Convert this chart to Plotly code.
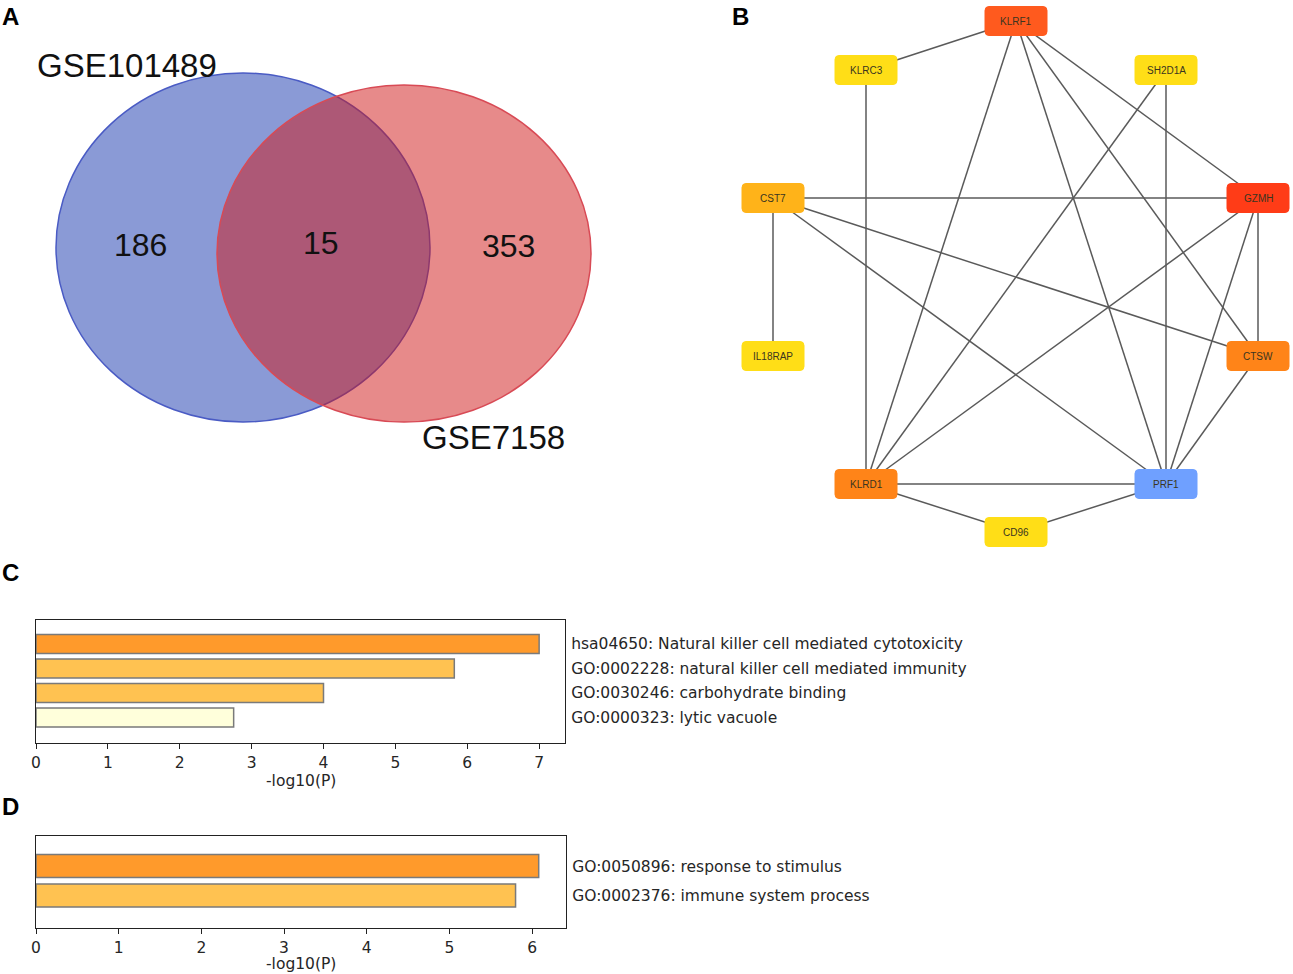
import plotly.graph_objects as go

W, H = 1293, 974

# ---------------- Panel A data (Venn) ----------------
venn_sets = ["GSE101489", "GSE7158"]
venn_counts = [186, 15, 353]  # only set 1, shared, only set 2

# ---------------- Panel B data (PPI network) ----------------
genes = ["KLRF1", "KLRC3", "SH2D1A", "CST7", "GZMH", "IL18RAP", "CTSW", "KLRD1", "PRF1", "CD96"]
gene_colors = ["#ff5a1e", "#ffde17", "#ffde17", "#ffb319", "#ff3c17", "#ffde17",
               "#ff8418", "#ff8418", "#6fa0ff", "#ffde17"]
edges = [
    ("KLRF1", "KLRC3"), ("KLRF1", "KLRD1"), ("KLRF1", "PRF1"), ("KLRF1", "CTSW"),
    ("KLRF1", "GZMH"), ("KLRC3", "KLRD1"), ("SH2D1A", "KLRD1"), ("SH2D1A", "PRF1"),
    ("CST7", "GZMH"), ("CST7", "IL18RAP"), ("CST7", "PRF1"), ("CST7", "CTSW"),
    ("GZMH", "KLRD1"), ("GZMH", "PRF1"), ("GZMH", "CTSW"), ("CTSW", "PRF1"),
    ("KLRD1", "PRF1"), ("KLRD1", "CD96"), ("PRF1", "CD96"),
]

# ---------------- Panel C data ----------------
c_terms = ["hsa04650: Natural killer cell mediated cytotoxicity",
           "GO:0002228: natural killer cell mediated immunity",
           "GO:0030246: carbohydrate binding",
           "GO:0000323: lytic vacuole"]
c_values = [7.0, 5.82, 4.0, 2.75]
c_colors = ["#ff9a2b", "#ffc251", "#ffc251", "#ffffdb"]
c_ticks = [0, 1, 2, 3, 4, 5, 6, 7]

# ---------------- Panel D data ----------------
d_terms = ["GO:0050896: response to stimulus",
           "GO:0002376: immune system process"]
d_values = [6.08, 5.80]
d_colors = ["#ff9a2b", "#ffc251"]
d_ticks = [0, 1, 2, 3, 4, 5, 6]

grid_vals = [2, 4, 6]
x_title = "-log10(P)"

# ---------------- layout geometry (pixels) ----------------
node_xy = {
    "KLRF1": (1016, 21), "KLRC3": (866, 70), "SH2D1A": (1166, 70),
    "CST7": (773, 198), "GZMH": (1258, 198), "IL18RAP": (773, 356),
    "CTSW": (1258, 356), "KLRD1": (866, 484), "PRF1": (1166, 484), "CD96": (1016, 532),
}
NODE_W, NODE_H, NODE_R = 62, 29, 4

fig = go.Figure()

# ---- network edges ----
ex, ey = [], []
for a, b in edges:
    ex += [node_xy[a][0], node_xy[b][0], None]
    ey += [node_xy[a][1], node_xy[b][1], None]
fig.add_trace(go.Scatter(x=ex, y=ey, mode="lines", xaxis="x", yaxis="y",
                         line=dict(color="#5a5a5a", width=1.5),
                         hoverinfo="skip", showlegend=False))

shapes = []
annotations = []

# ---- Venn circles ----
shapes.append(dict(type="circle", xref="x", yref="y", x0=56, x1=430, y0=73, y1=422,
                   fillcolor="rgba(21,53,173,0.5)", line=dict(color="#4a5bc4", width=1.5),
                   layer="below"))
shapes.append(dict(type="circle", xref="x", yref="y", x0=217, x1=591, y0=85, y1=422,
                   fillcolor="rgba(207,21,21,0.5)", line=dict(color="#d84a55", width=1.5),
                   layer="below"))

vfont = dict(family="Liberation Sans, Arial", size=33, color="#111111")
annotations.append(dict(x=127, y=65, xref="x", yref="y", text=venn_sets[0], showarrow=False, font=vfont))
annotations.append(dict(x=493, y=437, xref="x", yref="y", text=venn_sets[1], showarrow=False, font=vfont))
for val, (px, py) in zip(venn_counts, [(140, 245), (321, 243), (508, 246)]):
    annotations.append(dict(x=px, y=py, xref="x", yref="y", text=str(val), showarrow=False,
                            font=dict(family="Liberation Sans, Arial", size=32, color="#111111")))

# ---- network nodes ----
def rounded_rect(cx, cy, w, h, r):
    x0, x1 = cx - w / 2, cx + w / 2
    y0, y1 = cy - h / 2, cy + h / 2
    return (f"M {x0 + r},{y0} L {x1 - r},{y0} Q {x1},{y0} {x1},{y0 + r} "
            f"L {x1},{y1 - r} Q {x1},{y1} {x1 - r},{y1} L {x0 + r},{y1} "
            f"Q {x0},{y1} {x0},{y1 - r} L {x0},{y0 + r} Q {x0},{y0} {x0 + r},{y0} Z")

for g, col in zip(genes, gene_colors):
    cx, cy = node_xy[g]
    shapes.append(dict(type="path", xref="x", yref="y", path=rounded_rect(cx, cy, NODE_W, NODE_H, NODE_R),
                       fillcolor=col, line=dict(color=col, width=1), layer="above"))
    annotations.append(dict(x=cx, y=cy, xref="x", yref="y", text=g, showarrow=False,
                            font=dict(family="Liberation Sans, Arial", size=10, color="#3a3520")))

# ---- panel letters ----
for letter, (px, py) in zip(["A", "B", "C", "D"], [(0, 16), (730, 16), (0, 572), (0, 806)]):
    annotations.append(dict(x=px, y=py, xref="x", yref="y", text=f"<b>{letter}</b>", showarrow=False,
                            xanchor="left", yanchor="middle",
                            font=dict(family="Liberation Sans, Arial", size=24, color="#000000")))

# ---- bar chart C ----
fig.add_trace(go.Bar(x=c_values, y=c_terms, orientation="h", xaxis="x2", yaxis="y2", width=0.78,
                     marker=dict(color=c_colors, line=dict(color="#7a7a7a", width=1.5)),
                     showlegend=False, hoverinfo="x+y"))
# ---- bar chart D ----
fig.add_trace(go.Bar(x=d_values, y=d_terms, orientation="h", xaxis="x3", yaxis="y3", width=0.78,
                     marker=dict(color=d_colors, line=dict(color="#7a7a7a", width=1.5)),
                     showlegend=False, hoverinfo="x+y"))

for xr, yr in [("x2", "y2 domain"), ("x3", "y3 domain")]:
    for gv in grid_vals:
        shapes.append(dict(type="line", xref=xr, yref=yr, x0=gv, x1=gv, y0=0, y1=1,
                           line=dict(color="#b8b8b8", width=2), layer="below"))

bfont = dict(family="DejaVu Sans", size=15.5, color="#262626")

# x-axis titles
annotations.append(dict(x=300.5, y=781, xref="x", yref="y", text=x_title, showarrow=False, font=bfont))
annotations.append(dict(x=301, y=964, xref="x", yref="y", text=x_title, showarrow=False, font=bfont))

def px2paper_x(p):
    return p / W

def px2paper_y(p):
    return 1 - p / H

fig.update_layout(
    width=W, height=H,
    margin=dict(l=0, r=0, t=0, b=0, autoexpand=False),
    paper_bgcolor="white", plot_bgcolor="white",
    showlegend=False,
    xaxis=dict(domain=[0, 1], range=[0, W], visible=False, fixedrange=True, automargin=False),
    yaxis=dict(domain=[0, 1], range=[H, 0], visible=False, fixedrange=True, automargin=False),
    xaxis2=dict(domain=[px2paper_x(36), px2paper_x(565)], anchor="y2", range=[0, 7.36],
                tickvals=c_ticks, ticks="outside", ticklen=5, tickcolor="#222", tickwidth=1,
                showline=True, mirror=True, linecolor="#222", linewidth=1.2, showgrid=False,
                zeroline=False, tickfont=bfont, automargin=False),
    yaxis2=dict(domain=[px2paper_y(743), px2paper_y(620)], anchor="x2", side="right",
                type="category", categoryorder="array", categoryarray=c_terms,
                range=[4.04, -0.98], showline=True, mirror=True, linecolor="#222", linewidth=1.2,
                ticks="", showgrid=False, tickfont=bfont, automargin=False, ticklabelstandoff=2),
    xaxis3=dict(domain=[px2paper_x(36), px2paper_x(566)], anchor="y3", range=[0, 6.41],
                tickvals=d_ticks, ticks="outside", ticklen=5, tickcolor="#222", tickwidth=1,
                showline=True, mirror=True, linecolor="#222", linewidth=1.2, showgrid=False,
                zeroline=False, tickfont=bfont, automargin=False),
    yaxis3=dict(domain=[px2paper_y(928), px2paper_y(836)], anchor="x3", side="right",
                type="category", categoryorder="array", categoryarray=d_terms,
                range=[2.10, -1.02], showline=True, mirror=True, linecolor="#222", linewidth=1.2,
                ticks="", showgrid=False, tickfont=bfont, automargin=False, ticklabelstandoff=2),
    shapes=shapes,
    annotations=annotations,
)

fig.write_html("out.html", config={"displayModeBar": False},
               post_script="document.body.style.margin='0';document.body.style.overflow='hidden';")
